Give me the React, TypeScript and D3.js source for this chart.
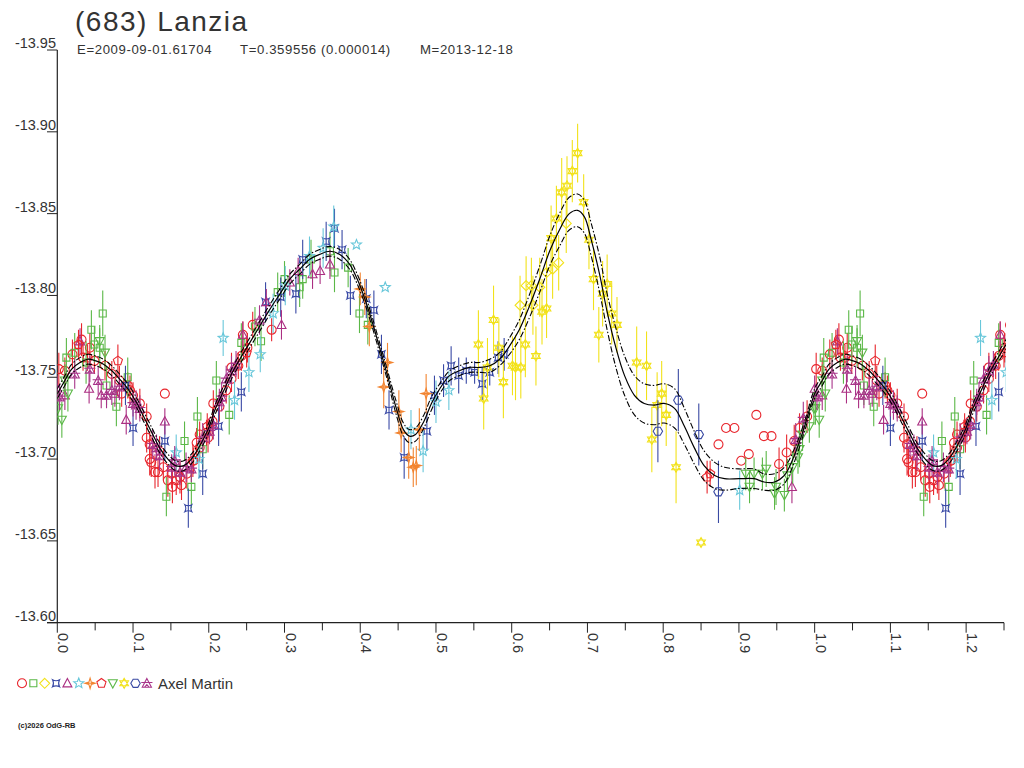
import React from "react";
import * as d3 from "d3";

type Pt = [number, number, number]; // phase, magnitude, error

// ---------- data ----------
const redCircle: Pt[] = [
  [0.002, -13.755, 0.010], [0.010, -13.754, 0.008], [0.020, -13.764, 0.009], [0.032, -13.773, 0.010],
  [0.034, -13.762, 0.008], [0.040, -13.762, 0.008], [0.043, -13.768, 0.009], [0.049, -13.760, 0.008],
  [0.063, -13.757, 0.009], [0.072, -13.752, 0.008], [0.082, -13.748, 0.009], [0.085, -13.740, 0.008],
  [0.093, -13.745, 0.008], [0.096, -13.742, 0.009], [0.100, -13.739, 0.008], [0.109, -13.734, 0.009],
  [0.118, -13.726, 0.008], [0.118, -13.713, 0.009], [0.122, -13.709, 0.008], [0.122, -13.700, 0.010],
  [0.124, -13.698, 0.009], [0.129, -13.692, 0.010], [0.133, -13.692, 0.009], [0.140, -13.695, 0.008],
  [0.142, -13.740, 0.002], [0.146, -13.687, 0.010], [0.151, -13.691, 0.009], [0.152, -13.683, 0.010],
  [0.157, -13.687, 0.009], [0.162, -13.689, 0.010], [0.164, -13.684, 0.009], [0.171, -13.691, 0.009],
  [0.179, -13.699, 0.010], [0.180, -13.699, 0.008], [0.184, -13.710, 0.009], [0.188, -13.715, 0.008],
  [0.188, -13.707, 0.009], [0.197, -13.716, 0.008], [0.199, -13.713, 0.009], [0.205, -13.723, 0.008],
  [0.206, -13.734, 0.008], [0.214, -13.732, 0.009], [0.223, -13.742, 0.008], [0.230, -13.756, 0.009],
  [0.230, -13.749, 0.008], [0.239, -13.757, 0.008], [0.243, -13.763, 0.009], [0.245, -13.776, 0.008],
  [0.251, -13.768, 0.009], [0.258, -13.782, 0.008], [0.283, -13.779, 0.007],
  [0.873, -13.709, 0.002], [0.883, -13.719, 0.002], [0.894, -13.719, 0.002], [0.903, -13.699, 0.002],
  [0.913, -13.703, 0.002], [0.923, -13.727, 0.002], [0.933, -13.714, 0.002], [0.943, -13.714, 0.002],
  [0.953, -13.697, 0.010], [0.963, -13.704, 0.011], [0.973, -13.711, 0.010], [0.980, -13.719, 0.009],
  [0.990, -13.726, 0.010],
];

const greenSquare: Pt[] = [
  [0.012, -13.762, 0.012], [0.023, -13.765, 0.012], [0.038, -13.759, 0.013], [0.045, -13.779, 0.012],
  [0.049, -13.770, 0.011], [0.056, -13.768, 0.012], [0.060, -13.789, 0.014], [0.065, -13.745, 0.012],
  [0.078, -13.732, 0.012], [0.093, -13.750, 0.012], [0.144, -13.677, 0.012], [0.168, -13.711, 0.012],
  [0.177, -13.683, 0.013], [0.185, -13.726, 0.012], [0.192, -13.706, 0.012], [0.210, -13.748, 0.012],
  [0.227, -13.727, 0.012], [0.243, -13.771, 0.012], [0.261, -13.781, 0.012], [0.269, -13.772, 0.012],
  [0.291, -13.802, 0.012], [0.300, -13.810, 0.011], [0.320, -13.805, 0.012], [0.324, -13.810, 0.012],
  [0.335, -13.822, 0.012], [0.360, -13.827, 0.012], [0.366, -13.814, 0.012], [0.384, -13.817, 0.012],
  [0.399, -13.789, 0.012], [0.410, -13.782, 0.012],
];

const yellowDiamond: Pt[] = [
  [0.611, -13.794, 0.018], [0.619, -13.806, 0.018], [0.626, -13.806, 0.017], [0.628, -13.794, 0.018],
  [0.637, -13.805, 0.018], [0.646, -13.814, 0.018], [0.654, -13.816, 0.018], [0.662, -13.820, 0.017],
  [0.672, -13.844, 0.018],
];

const blueAstroid: Pt[] = [
  [0.090, -13.745, 0.012], [0.100, -13.719, 0.011], [0.142, -13.711, 0.012], [0.173, -13.670, 0.012],
  [0.192, -13.691, 0.013], [0.213, -13.720, 0.012], [0.243, -13.741, 0.012], [0.275, -13.796, 0.012],
  [0.295, -13.799, 0.012], [0.315, -13.801, 0.012], [0.324, -13.822, 0.012], [0.355, -13.833, 0.012],
  [0.366, -13.841, 0.012], [0.376, -13.828, 0.012], [0.387, -13.800, 0.012], [0.408, -13.798, 0.012],
  [0.418, -13.791, 0.012], [0.428, -13.764, 0.012], [0.438, -13.730, 0.012], [0.458, -13.701, 0.013],
  [0.488, -13.717, 0.012], [0.498, -13.739, 0.012], [0.510, -13.748, 0.010], [0.520, -13.757, 0.012],
  [0.530, -13.751, 0.011], [0.540, -13.754, 0.008], [0.551, -13.753, 0.007], [0.561, -13.746, 0.010],
  [0.571, -13.753, 0.008], [0.582, -13.762, 0.010], [0.590, -13.764, 0.010],
];

const purpleTriangle: Pt[] = [
  [0.000, -13.743, 0.008], [0.010, -13.739, 0.009], [0.030, -13.772, 0.008], [0.042, -13.743, 0.009],
  [0.058, -13.739, 0.008], [0.076, -13.740, 0.008], [0.091, -13.724, 0.009], [0.142, -13.723, 0.008],
  [0.245, -13.776, 0.008], [0.276, -13.796, 0.008], [0.296, -13.782, 0.009], [0.307, -13.808, 0.008],
  [0.318, -13.815, 0.008], [0.337, -13.813, 0.009], [0.347, -13.815, 0.008], [0.360, -13.819, 0.009],
  [0.970, -13.683, 0.010],
];

const cyanStar: Pt[] = [
  [0.157, -13.704, 0.011], [0.187, -13.700, 0.012], [0.219, -13.774, 0.011], [0.234, -13.736, 0.012],
  [0.253, -13.753, 0.012], [0.268, -13.764, 0.011], [0.285, -13.789, 0.012], [0.301, -13.806, 0.012],
  [0.333, -13.824, 0.012], [0.351, -13.829, 0.012], [0.365, -13.842, 0.013], [0.395, -13.831, 0.003],
  [0.433, -13.805, 0.003], [0.467, -13.718, 0.012], [0.483, -13.705, 0.013], [0.500, -13.735, 0.013],
  [0.517, -13.742, 0.012], [0.901, -13.681, 0.012],
];

const orangeStar: Pt[] = [
  [0.400, -13.804, 0.010], [0.406, -13.799, 0.011], [0.412, -13.781, 0.012], [0.431, -13.744, 0.013],
  [0.436, -13.759, 0.012], [0.451, -13.729, 0.013], [0.454, -13.716, 0.012], [0.464, -13.701, 0.013],
  [0.470, -13.695, 0.012], [0.474, -13.696, 0.012], [0.478, -13.718, 0.013], [0.487, -13.740, 0.012],
];

const redPentagon: Pt[] = [
  [0.028, -13.770, 0.009], [0.080, -13.760, 0.010], [0.135, -13.705, 0.009], [0.198, -13.720, 0.008],
  [0.250, -13.765, 0.009], [0.858, -13.689, 0.010], [0.862, -13.691, 0.008],
];

const greenTriangleDown: Pt[] = [
  [0.001, -13.731, 0.010], [0.006, -13.724, 0.011], [0.010, -13.748, 0.010], [0.014, -13.740, 0.011],
  [0.056, -13.772, 0.010], [0.063, -13.765, 0.011], [0.909, -13.691, 0.010], [0.914, -13.683, 0.010],
  [0.920, -13.691, 0.010], [0.931, -13.691, 0.010], [0.936, -13.694, 0.011], [0.947, -13.679, 0.010],
  [0.949, -13.683, 0.011], [0.960, -13.678, 0.010], [0.964, -13.690, 0.010], [0.971, -13.695, 0.010],
  [0.978, -13.701, 0.010], [0.980, -13.706, 0.011], [0.984, -13.715, 0.010], [0.993, -13.720, 0.010],
  [0.999, -13.731, 0.010],
];

const yellowHexagram: Pt[] = [
  [0.556, -13.770, 0.021], [0.563, -13.737, 0.019], [0.568, -13.756, 0.018], [0.576, -13.785, 0.021],
  [0.583, -13.768, 0.018], [0.589, -13.747, 0.022], [0.601, -13.757, 0.018], [0.605, -13.756, 0.020],
  [0.612, -13.756, 0.019], [0.618, -13.770, 0.020], [0.632, -13.763, 0.018], [0.640, -13.790, 0.020],
  [0.646, -13.792, 0.018], [0.652, -13.835, 0.020], [0.659, -13.847, 0.020], [0.666, -13.863, 0.021],
  [0.673, -13.867, 0.018], [0.680, -13.876, 0.019], [0.687, -13.887, 0.018], [0.695, -13.857, 0.017],
  [0.702, -13.834, 0.018], [0.708, -13.810, 0.019], [0.715, -13.776, 0.017], [0.720, -13.801, 0.020],
  [0.726, -13.807, 0.018], [0.732, -13.789, 0.019], [0.739, -13.782, 0.017], [0.765, -13.759, 0.022],
  [0.778, -13.757, 0.021], [0.785, -13.712, 0.020], [0.792, -13.733, 0.020], [0.798, -13.740, 0.020],
  [0.804, -13.727, 0.019], [0.817, -13.695, 0.022], [0.850, -13.649, 0.000],
];

const navyHexagon: Pt[] = [
  [0.793, -13.717, 0.019], [0.820, -13.736, 0.019], [0.847, -13.715, 0.019], [0.873, -13.680, 0.019],
];

const magentaSpecial: Pt[] = [
  [0.003, -13.738, 0.008], [0.023, -13.752, 0.009], [0.043, -13.755, 0.008], [0.054, -13.748, 0.009],
  [0.065, -13.739, 0.008], [0.072, -13.742, 0.009], [0.082, -13.744, 0.008], [0.100, -13.734, 0.008],
  [0.104, -13.733, 0.009], [0.109, -13.731, 0.008], [0.126, -13.709, 0.009], [0.131, -13.707, 0.008],
  [0.135, -13.702, 0.009], [0.151, -13.695, 0.008], [0.155, -13.699, 0.009], [0.162, -13.692, 0.008],
  [0.170, -13.695, 0.009], [0.177, -13.694, 0.008], [0.192, -13.713, 0.009], [0.201, -13.717, 0.008],
  [0.206, -13.721, 0.009], [0.214, -13.735, 0.008], [0.217, -13.738, 0.009], [0.223, -13.749, 0.008],
  [0.230, -13.754, 0.009], [0.236, -13.758, 0.008], [0.267, -13.785, 0.009], [0.975, -13.712, 0.010],
  [0.985, -13.725, 0.010],
];

// Fourier fit curve and its uncertainty band
const fitPhase = [
  0.000, 0.010, 0.019, 0.030, 0.040, 0.051, 0.061, 0.072, 0.082, 0.093, 0.104, 0.114, 0.125, 0.135,
  0.146, 0.156, 0.167, 0.177, 0.188, 0.199, 0.209, 0.220, 0.230, 0.241, 0.254, 0.267, 0.280, 0.294,
  0.307, 0.320, 0.333, 0.346, 0.360, 0.373, 0.386, 0.396, 0.406, 0.415, 0.425, 0.436, 0.447, 0.457,
  0.465, 0.473, 0.484, 0.494, 0.505, 0.518, 0.531, 0.544, 0.557, 0.571, 0.584, 0.597, 0.610, 0.623,
  0.637, 0.650, 0.663, 0.676, 0.687, 0.696, 0.705, 0.716, 0.726, 0.737, 0.749, 0.762, 0.775, 0.788,
  0.801, 0.815, 0.828, 0.841, 0.854, 0.868, 0.881, 0.900, 0.920, 0.933, 0.947, 0.960, 0.973, 0.986,
  1.000,
];
const fitMag = [
  -13.740, -13.748, -13.755, -13.759, -13.761, -13.760, -13.758, -13.754, -13.749, -13.743, -13.735,
  -13.726, -13.716, -13.707, -13.700, -13.696, -13.696, -13.700, -13.708, -13.718, -13.731, -13.742,
  -13.752, -13.761, -13.771, -13.781, -13.791, -13.801, -13.810, -13.816, -13.822, -13.825, -13.827,
  -13.825, -13.819, -13.810, -13.798, -13.785, -13.769, -13.751, -13.732, -13.718, -13.714, -13.715,
  -13.723, -13.734, -13.743, -13.751, -13.754, -13.756, -13.756, -13.757, -13.761, -13.769, -13.779,
  -13.793, -13.810, -13.827, -13.840, -13.850, -13.852, -13.848, -13.834, -13.813, -13.790, -13.769,
  -13.751, -13.739, -13.734, -13.733, -13.734, -13.731, -13.720, -13.707, -13.696, -13.690, -13.688,
  -13.688, -13.688, -13.686, -13.686, -13.690, -13.702, -13.719, -13.740,
];
const fitHalf = [
  0.003, 0.003, 0.003, 0.003, 0.003, 0.003, 0.003, 0.003, 0.003, 0.003, 0.003, 0.003, 0.003, 0.003,
  0.003, 0.003, 0.003, 0.003, 0.003, 0.003, 0.003, 0.003, 0.003, 0.003, 0.003, 0.003, 0.003, 0.003,
  0.003, 0.003, 0.003, 0.003, 0.003, 0.003, 0.003, 0.003, 0.003, 0.003, 0.003, 0.003, 0.004, 0.004,
  0.004, 0.004, 0.004, 0.004, 0.003, 0.003, 0.003, 0.003, 0.003, 0.004, 0.004, 0.005, 0.006, 0.007,
  0.008, 0.009, 0.010, 0.010, 0.010, 0.010, 0.010, 0.011, 0.011, 0.012, 0.012, 0.012, 0.012, 0.012,
  0.012, 0.012, 0.011, 0.010, 0.009, 0.008, 0.007, 0.006, 0.006, 0.005, 0.005, 0.005, 0.004, 0.003,
  0.003,
];

const yTickValues = [-13.95, -13.9, -13.85, -13.8, -13.75, -13.7, -13.65, -13.6];
const xMajorTicks = [0, 0.1, 0.2, 0.3, 0.4, 0.5, 0.6, 0.7, 0.8, 0.9, 1.0, 1.1, 1.2];
const xMinorTicks = [0.05, 0.15, 0.25, 0.35, 0.45, 0.55, 0.65, 0.75, 0.85, 0.95, 1.05, 1.15, 1.25];

const titleText = "(683) Lanzia";
const subtitleParts = ["E=2009-09-01.61704", "T=0.359556 (0.000014)", "M=2013-12-18"];
const observerName = "Axel Martin";
const copyrightText = "(c)2026 OdG-RB";

// ---------- styling ----------
type Shape =
  | "circle" | "square" | "diamond" | "astroid" | "triUp" | "star5" | "star4"
  | "pentagon" | "triDown" | "hexagram" | "hexagon" | "special";

const SERIES: { data: Pt[]; shape: Shape; color: string }[] = [
  { data: redCircle, shape: "circle", color: "#e8262d" },
  { data: greenSquare, shape: "square", color: "#5bb847" },
  { data: yellowDiamond, shape: "diamond", color: "#f2e21a" },
  { data: blueAstroid, shape: "astroid", color: "#3949a5" },
  { data: purpleTriangle, shape: "triUp", color: "#ab2f82" },
  { data: cyanStar, shape: "star5", color: "#68c7da" },
  { data: orangeStar, shape: "star4", color: "#f28430" },
  { data: redPentagon, shape: "pentagon", color: "#e8262d" },
  { data: greenTriangleDown, shape: "triDown", color: "#5bb847" },
  { data: yellowHexagram, shape: "hexagram", color: "#f2e21a" },
  { data: navyHexagon, shape: "hexagon", color: "#3a4aa3" },
  { data: magentaSpecial, shape: "special", color: "#a8358a" },
];

function poly(pts: [number, number][]): string {
  return "M" + pts.map((p) => `${p[0].toFixed(2)},${p[1].toFixed(2)}`).join("L") + "Z";
}
function starPts(n: number, ro: number, ri: number, rot = -Math.PI / 2): [number, number][] {
  const out: [number, number][] = [];
  for (let i = 0; i < n * 2; i++) {
    const r = i % 2 === 0 ? ro : ri;
    const a = rot + (i * Math.PI) / n;
    out.push([r * Math.cos(a), r * Math.sin(a)]);
  }
  return out;
}
function regPts(n: number, r: number, rot: number): [number, number][] {
  return d3.range(n).map((i) => {
    const a = rot + (i * 2 * Math.PI) / n;
    return [r * Math.cos(a), r * Math.sin(a)] as [number, number];
  });
}

function shapePath(s: Shape): string {
  switch (s) {
    case "circle":
      return "M4.5,0A4.5,4.5 0 1 1 -4.5,0A4.5,4.5 0 1 1 4.5,0Z";
    case "square":
      return poly([[-3.5, -3.5], [3.5, -3.5], [3.5, 3.5], [-3.5, 3.5]]);
    case "diamond":
      return poly([[0, -5], [5, 0], [0, 5], [-5, 0]]);
    case "astroid":
      return "M-3.5,-3.5Q0,-1.6 3.5,-3.5Q1.6,0 3.5,3.5Q0,1.6 -3.5,3.5Q-1.6,0 -3.5,-3.5Z";
    case "triUp":
      return poly([[0, -4.8], [4.5, 3.6], [-4.5, 3.6]]);
    case "star5":
      return poly(starPts(5, 5.3, 2.3));
    case "star4":
      return poly(starPts(4, 5.2, 1.7)) + "M-5.2,0L5.2,0";
    case "pentagon":
      return poly(regPts(5, 4.8, -Math.PI / 2));
    case "triDown":
      return poly([[0, 4.8], [4.5, -3.6], [-4.5, -3.6]]);
    case "hexagram":
      return poly(regPts(3, 5, -Math.PI / 2)) + poly(regPts(3, 5, Math.PI / 2));
    case "hexagon":
      return poly(regPts(6, 4.7, 0));
    case "special":
      return poly([[0, -4.8], [4.6, 4], [-4.6, 4]]) + "M-5.6,-0.8L5.6,-0.8M-2.4,4L0,1.2L2.4,4";
  }
}

// ---------- scales ----------
const W = 1024;
const H = 768;
const x = d3.scaleLinear().domain([0, 1.25]).range([57.3, 1004]);
const y = d3.scaleLinear().domain([-13.6, -13.95]).range([622.7, 50]);
const X0 = x(0);
const Y0 = y(-13.6);

const FONT = "'Liberation Sans', Arial, Helvetica, sans-serif";
const TEXT = "#333";
const fmtY = (v: number) => d3.format(".2f")(v).replace("\u2212", "-");

export default function App() {
  // fit curve extended over 1.0 .. 1.25 by repeating phases 0 .. 0.25
  const fitRows = fitPhase.map((p, i) => ({ p, m: fitMag[i], h: fitHalf[i] }));
  const fitAll = fitRows.concat(
    fitRows.filter((r) => r.p > 0 && r.p <= 0.26).map((r) => ({ ...r, p: r.p + 1 }))
  );
  const line = (off: number) =>
    d3
      .line<{ p: number; m: number; h: number }>()
      .x((d) => x(d.p))
      .y((d) => y(d.m + off * d.h))
      .curve(d3.curveCatmullRom.alpha(0.5))(fitAll) || "";

  const expand = (data: Pt[]) =>
    data.concat(data.filter((d) => d[0] + 1 <= 1.26).map((d) => [d[0] + 1, d[1], d[2]] as Pt));

  const subX = [77, 240, 420];

  return (
    <svg
      width={W}
      height={H}
      viewBox={`0 0 ${W} ${H}`}
      style={{ position: "absolute", left: 0, top: 0, background: "#fff", display: "block" }}
      fontFamily={FONT}
    >
      <rect x={0} y={0} width={W} height={H} fill="#fff" />
      <defs>
        <clipPath id="plotClip">
          <rect x={X0} y={40} width={x(1.25) - X0 + 2} height={Y0 - 40} />
        </clipPath>
      </defs>

      {/* title */}
      <text x={75} y={31} fontSize={28} letterSpacing={1.5} fill={TEXT}>
        {titleText}
      </text>
      {subtitleParts.map((t, i) => (
        <text key={"sub" + i} x={subX[i]} y={54} fontSize={13.2} letterSpacing={0.6} fill={TEXT}>
          {t}
        </text>
      ))}

      {/* y axis */}
      <line x1={X0} x2={X0} y1={y(-13.95)} y2={Y0} stroke="#222" strokeWidth={1.2} />
      {yTickValues.map((v) => (
        <g key={"y" + v}>
          <line x1={47} x2={X0} y1={y(v)} y2={y(v)} stroke="#222" strokeWidth={1} />
          <text x={56} y={y(v) - 2} fontSize={14.5} textAnchor="end" fill={TEXT}>
            {fmtY(v)}
          </text>
        </g>
      ))}

      {/* x axis */}
      <line x1={47} x2={x(1.25)} y1={Y0} y2={Y0} stroke="#222" strokeWidth={1.2} />
      {xMajorTicks.map((v) => (
        <g key={"xm" + v}>
          <line x1={x(v)} x2={x(v)} y1={Y0} y2={Y0 + 10} stroke="#222" strokeWidth={1} />
          <text transform={`translate(${x(v) + 1},633) rotate(90)`} fontSize={14.5} fill={TEXT}>
            {d3.format(".1f")(v)}
          </text>
        </g>
      ))}
      {xMinorTicks.map((v) => (
        <line key={"xn" + v} x1={x(v)} x2={x(v)} y1={Y0} y2={Y0 + 7.7} stroke="#222" strokeWidth={1} />
      ))}

      {/* data */}
      <g clipPath="url(#plotClip)">
        {SERIES.map((s, si) => {
          const pts = expand(s.data);
          const d = shapePath(s.shape);
          return (
            <g key={"s" + si}>
              {pts.map((pt, i) =>
                pt[2] > 0.003 ? (
                  <line
                    key={"e" + i}
                    x1={x(pt[0])}
                    x2={x(pt[0])}
                    y1={y(pt[1] - pt[2])}
                    y2={y(pt[1] + pt[2])}
                    stroke={s.color}
                    strokeWidth={1.1}
                  />
                ) : null
              )}
              {pts.map((pt, i) => (
                <path
                  key={"p" + i}
                  d={d}
                  transform={`translate(${x(pt[0])},${y(pt[1])})`}
                  fill="none"
                  stroke={s.color}
                  strokeWidth={1.1}
                />
              ))}
            </g>
          );
        })}

        {/* fit */}
        <path d={line(0)} fill="none" stroke="#000" strokeWidth={1.2} />
        <path d={line(1)} fill="none" stroke="#000" strokeWidth={1.1} strokeDasharray="6 2 1.5 2" />
        <path d={line(-1)} fill="none" stroke="#000" strokeWidth={1.1} strokeDasharray="6 2 1.5 2" />
      </g>

      {/* legend */}
      {SERIES.map((s, i) => (
        <path
          key={"lg" + i}
          d={shapePath(s.shape)}
          transform={`translate(${22 + i * 11.35},683.3)`}
          fill="none"
          stroke={s.color}
          strokeWidth={1.1}
        />
      ))}
      <text x={158} y={689} fontSize={15} fill={TEXT}>
        {observerName}
      </text>

      <text x={18} y={728} fontSize={7.5} fontWeight="bold" fill="#222">
        {copyrightText}
      </text>
    </svg>
  );
}
